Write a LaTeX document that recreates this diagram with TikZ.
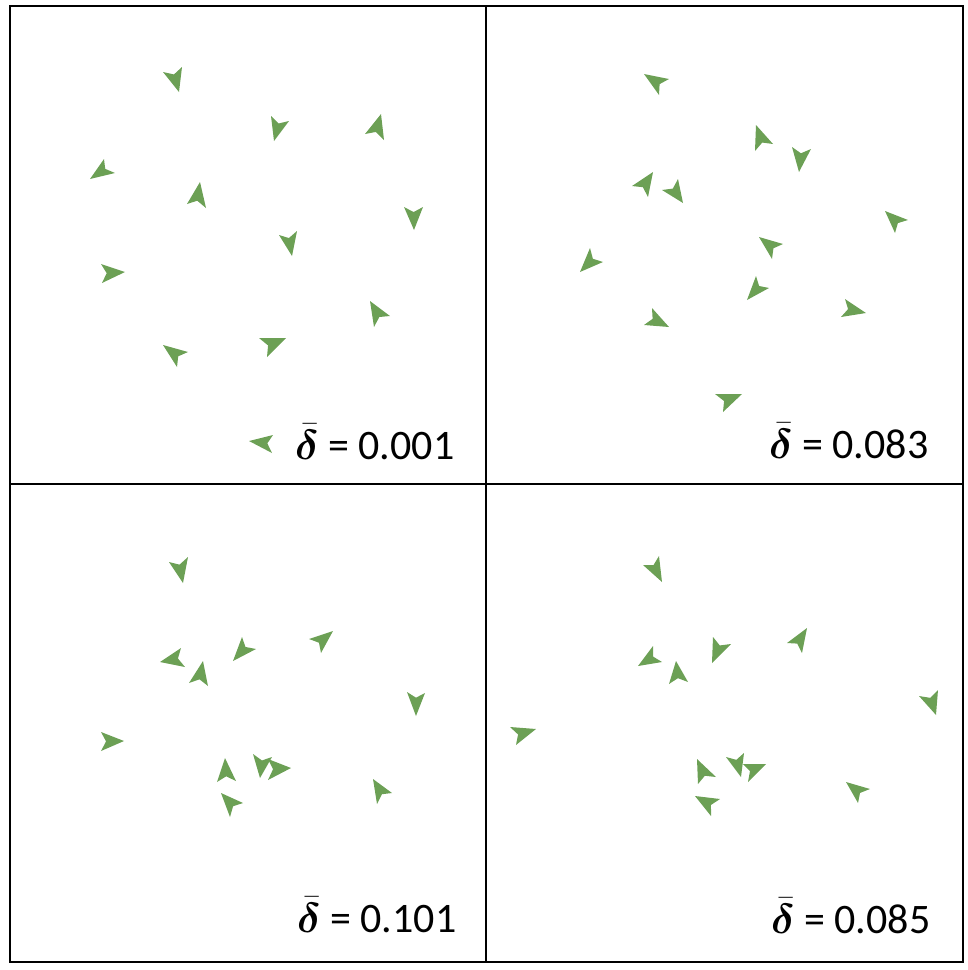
\RequirePackage{fix-cm}
\documentclass[tikz,border=0pt]{standalone}
\usepackage{bm}
\usepackage{fontspec}
\setmainfont{Carlito}
\usetikzlibrary{calc}
\definecolor{dartgreen}{HTML}{6CA055}
\tikzset{
  dartfill/.style={fill=dartgreen},
  frameline/.style={line width=2pt, draw=black},
  lbl/.style={anchor=base west, inner sep=0pt, font=\fontsize{42}{50}\selectfont}
}
% tip x,y ; wing1 x,y ; wing2 x,y
\newcommand\dartshape[6]{\fill[dartfill] (#1,#2) -- (#3,#4) -- ($(#3,#4)!0.5!(#5,#6)!0.22!(#1,#2)$) -- (#5,#6) -- cycle;}
\newcommand\dbar{$\bar{\bm{\delta}}$}
\begin{document}
\begin{tikzpicture}[x=1pt,y=-1pt]
\useasboundingbox (0,0) rectangle (968,970);
\coordinate (tl) at (10,6);
\coordinate (br) at (963,962);
\coordinate (mt) at (485.5,6);
\coordinate (mb) at (485.5,962);
\coordinate (ml) at (10,483.7);
\coordinate (mr) at (963,483.7);
\draw[frameline] (tl) rectangle (br);
\draw[frameline] (mt) -- (mb);
\draw[frameline] (ml) -- (mr);
% panel 1
\dartshape{179}{92}{163}{72}{182}{67}
\dartshape{274}{141}{271}{116}{289}{121}
\dartshape{381}{114}{365}{134}{384}{140}
\dartshape{90}{179}{104}{159}{115}{173}
\dartshape{200}{182}{187}{204}{206}{208}
\dartshape{414}{230}{404}{207}{423}{207}
\dartshape{292}{256}{279}{235}{297}{231}
\dartshape{125}{272}{101}{264}{102}{283}
\dartshape{370}{301}{390}{316}{374}{327}
\dartshape{163}{345}{188}{352}{177}{367}
\dartshape{286}{338}{259}{338}{267}{357}
\dartshape{249}{441}{273}{435}{272}{453}
% panel 2
\dartshape{644}{74}{669}{79}{659}{95}
\dartshape{756}{125}{773}{144}{755}{151}
\dartshape{799}{172}{792}{147}{811}{149}
\dartshape{653}{172}{632}{186}{648}{197}
\dartshape{683}{203}{678}{179}{662}{190}
\dartshape{885}{211}{908}{220}{895}{233}
\dartshape{580}{272}{590}{248}{603}{262}
\dartshape{759}{237}{783}{244}{772}{259}
\dartshape{747}{300}{756}{276}{769}{288}
\dartshape{669}{327}{652}{308}{644}{325}
\dartshape{866}{313}{845}{299}{841}{317}
\dartshape{742}{394}{715}{394}{723}{412}
% panel 3
\dartshape{183}{583}{169}{562}{188}{557}
\dartshape{160}{662}{181}{648}{185}{667}
\dartshape{203}{661}{189}{683}{208}{686}
\dartshape{233}{661}{242}{637}{256}{649}
\dartshape{333}{631}{309}{639}{321}{653}
\dartshape{416}{716}{407}{692}{425}{693}
\dartshape{124}{741}{101}{732}{101}{751}
\dartshape{225}{758}{217}{782}{236}{781}
\dartshape{291}{768}{268}{759}{268}{780}
\dartshape{260}{778}{253}{754}{272}{757}
\dartshape{221}{793}{243}{803}{230}{817}
\dartshape{373}{779}{392}{793}{377}{804}
% panel 4
\dartshape{662}{582}{643}{565}{659}{556}
\dartshape{638}{666}{653}{646}{662}{662}
\dartshape{676}{661}{669}{684}{688}{682}
\dartshape{712}{663}{713}{637}{731}{644}
\dartshape{807}{628}{787}{643}{802}{653}
\dartshape{936}{715}{938}{690}{919}{696}
\dartshape{536}{729}{510}{727}{516}{745}
\dartshape{697}{759}{716}{777}{698}{784}
\dartshape{766}{764}{743}{764}{748}{782}
\dartshape{741}{777}{726}{757}{744}{753}
\dartshape{695}{796}{720}{799}{711}{816}
\dartshape{846}{782}{870}{789}{858}{803}
% labels
\node[lbl] (l1) at (295,459) {\dbar{} = 0.001};
\node[lbl] (l2) at (769,458) {\dbar{} = 0.083};
\node[lbl] (l3) at (297,932) {\dbar{} = 0.101};
\node[lbl] (l4) at (771,933) {\dbar{} = 0.085};
\end{tikzpicture}
\end{document}
